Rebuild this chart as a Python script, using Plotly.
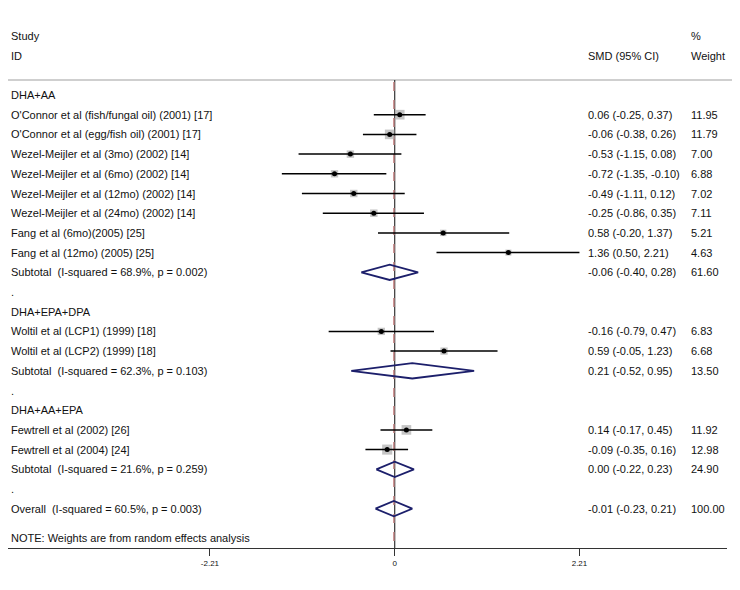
import plotly.graph_objects as go

# ---------------- data ----------------
row_labels = [
    "DHA+AA",
    "O'Connor et al (fish/fungal oil) (2001) [17]",
    "O'Connor et al (egg/fish oil) (2001) [17]",
    "Wezel-Meijler et al (3mo) (2002) [14]",
    "Wezel-Meijler et al (6mo) (2002) [14]",
    "Wezel-Meijler et al (12mo) (2002) [14]",
    "Wezel-Meijler et al (24mo) (2002) [14]",
    "Fang et al (6mo)(2005) [25]",
    "Fang et al (12mo) (2005) [25]",
    "Subtotal  (I-squared = 68.9%, p = 0.002)",
    ".",
    "DHA+EPA+DPA",
    "Woltil et al (LCP1) (1999) [18]",
    "Woltil et al (LCP2) (1999) [18]",
    "Subtotal  (I-squared = 62.3%, p = 0.103)",
    ".",
    "DHA+AA+EPA",
    "Fewtrell et al (2002) [26]",
    "Fewtrell et al (2004) [24]",
    "Subtotal  (I-squared = 21.6%, p = 0.259)",
    ".",
    "Overall  (I-squared = 60.5%, p = 0.003)",
]
row_kind = ["group", "study", "study", "study", "study", "study", "study", "study", "study",
            "pooled", "blank", "group", "study", "study", "pooled", "blank", "group",
            "study", "study", "pooled", "blank", "pooled"]
smd = [None, 0.06, -0.06, -0.53, -0.72, -0.49, -0.25, 0.58, 1.36, -0.06, None,
       None, -0.16, 0.59, 0.21, None, None, 0.14, -0.09, 0.00, None, -0.01]
ci_low = [None, -0.25, -0.38, -1.15, -1.35, -1.11, -0.86, -0.20, 0.50, -0.40, None,
          None, -0.79, -0.05, -0.52, None, None, -0.17, -0.35, -0.22, None, -0.23]
ci_high = [None, 0.37, 0.26, 0.08, -0.10, 0.12, 0.35, 1.37, 2.21, 0.28, None,
           None, 0.47, 1.23, 0.95, None, None, 0.45, 0.16, 0.23, None, 0.21]
weight = [None, 11.95, 11.79, 7.00, 6.88, 7.02, 7.11, 5.21, 4.63, 61.60, None,
          None, 6.83, 6.68, 13.50, None, None, 11.92, 12.98, 24.90, None, 100.00]
overall_smd = -0.01
tick_vals = [-2.21, 0, 2.21]
tick_text = ["-2.21", "0", "2.21"]
note_text = "NOTE: Weights are from random effects analysis"

# ---------------- geometry helpers ----------------
PAGE_OFF = 8                        # default body margin of the html page
W, H = 740 - 2 * PAGE_OFF, 590 - 2 * PAGE_OFF
X0PX, XSCALE = 394.7 - PAGE_OFF, 83.6   # figure pixel of 0 and pixels per unit
Y0PX, YSTEP = 95.0 - PAGE_OFF, 19.7     # figure pixel of row 0 and pixels per row
AXIS_PX = 548.0 - PAGE_OFF
AXIS_END = 727.0 - PAGE_OFF


def px_to_x(p):
    return (p - X0PX) / XSCALE


def px_to_row(p):
    return (p - Y0PX) / YSTEP


FONT = "Liberation Sans, Arial, sans-serif"
FS = 11
TXT = "#111111"

fig = go.Figure()

lx, ly = [], []
sq_x, sq_y, sq_s = [], [], []
for i, k in enumerate(row_kind):
    if k == "study":
        lx += [ci_low[i], ci_high[i], None]
        ly += [i, i, None]
        sq_x.append(smd[i])
        sq_y.append(i)
        sq_s.append(2.8 * weight[i] ** 0.5)

fig.add_trace(go.Scatter(x=sq_x, y=sq_y, mode="markers",
                         marker=dict(symbol="square", size=sq_s, color="#acacac",
                                     line=dict(width=0)),
                         hoverinfo="skip", showlegend=False))
fig.add_trace(go.Scatter(x=lx, y=ly, mode="lines", line=dict(color="#000000", width=1.5),
                         hoverinfo="skip", showlegend=False))
fig.add_trace(go.Scatter(x=sq_x, y=sq_y, mode="markers",
                         marker=dict(symbol="circle", size=5, color="#000000"),
                         hoverinfo="skip", showlegend=False))

dx, dy = [], []
hh = 0.39
for i, k in enumerate(row_kind):
    if k == "pooled":
        dx += [ci_low[i], smd[i], ci_high[i], smd[i], ci_low[i], None]
        dy += [i, i - hh, i, i + hh, i, None]
fig.add_trace(go.Scatter(x=dx, y=dy, mode="lines", line=dict(color="#1c1f6b", width=1.8),
                         hoverinfo="skip", showlegend=False))

shapes = []
top_row = px_to_row(80 - PAGE_OFF)
bottom_row = px_to_row(AXIS_PX)
shapes.append(dict(type="line", xref="paper", yref="y", x0=0, x1=1, y0=top_row, y1=top_row,
                   line=dict(color="#cfcfcf", width=2.2), layer="below"))
shapes.append(dict(type="line", xref="x", yref="y", x0=0, x1=0, y0=top_row, y1=bottom_row,
                   line=dict(color="#333333", width=1.2), layer="below"))
shapes.append(dict(type="line", xref="x", yref="y", x0=overall_smd, x1=overall_smd,
                   y0=top_row + 0.1, y1=bottom_row,
                   line=dict(color="#c98a8a", width=1.5, dash="dash"), layer="below"))

ann = []


def txt(xpx, row, s, size=FS):
    ann.append(dict(xref="paper", yref="y", x=(xpx - PAGE_OFF) / W, y=row,
                    text=s.replace("  ", "\u00a0\u00a0"),
                    showarrow=False, xanchor="left", yanchor="middle",
                    font=dict(family=FONT, size=size, color=TXT)))


txt(9, px_to_row(36 - PAGE_OFF), "Study")
txt(9, px_to_row(56 - PAGE_OFF), "ID")
txt(586, px_to_row(56 - PAGE_OFF), "SMD (95% CI)")
txt(689, px_to_row(36 - PAGE_OFF), "%")
txt(689, px_to_row(56 - PAGE_OFF), "Weight")

for i, lab in enumerate(row_labels):
    txt(9, i, lab)
    if smd[i] is not None:
        txt(586, i, f"{smd[i]:.2f} ({ci_low[i]:.2f}, {ci_high[i]:.2f})")
        txt(689, i, f"{weight[i]:.2f}")

txt(9, px_to_row(538 - PAGE_OFF), note_text)

fig.update_layout(
    width=W, height=H,
    margin=dict(l=0, r=0, t=0, b=0),
    paper_bgcolor="white", plot_bgcolor="white",
    showlegend=False,
    xaxis=dict(domain=[0, AXIS_END / W], range=[px_to_x(0), px_to_x(AXIS_END)],
               showgrid=False, zeroline=False, showline=True, linecolor="#333333", linewidth=1.2,
               ticks="outside", ticklen=7, tickwidth=1.2, tickcolor="#333333",
               tickvals=tick_vals, ticktext=tick_text,
               tickfont=dict(family=FONT, size=8, color=TXT), fixedrange=True),
    yaxis=dict(domain=[(H - AXIS_PX) / H, 1], range=[bottom_row, px_to_row(0)],
               showgrid=False, zeroline=False, showline=False, showticklabels=False,
               fixedrange=True),
    shapes=shapes,
    annotations=ann,
)

fig.write_html("out.html")
